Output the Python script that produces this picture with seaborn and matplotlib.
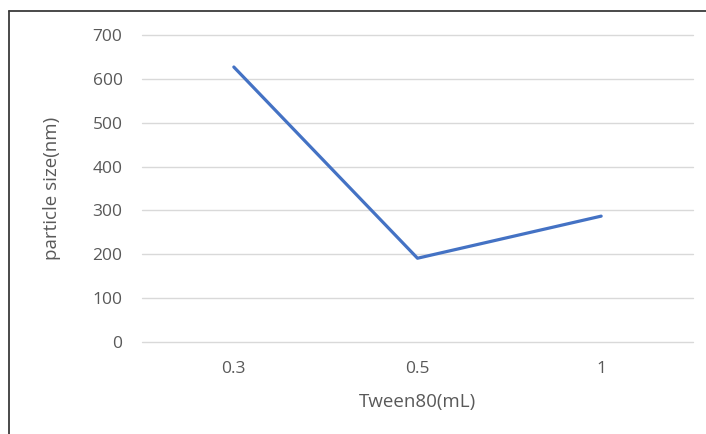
import matplotlib
matplotlib.use("Agg")
import matplotlib.pyplot as plt
from matplotlib.lines import Line2D
import seaborn as sns
import pandas as pd

categories = ["0.3", "0.5", "1"]
particle_size = [627, 191, 287]
y_ticks = [0, 100, 200, 300, 400, 500, 600, 700]

sns.set_theme(style="white")
plt.rcParams["font.family"] = ["Open Sans", "DejaVu Sans"]

df = pd.DataFrame({"Tween80(mL)": categories, "particle size(nm)": particle_size})

fig = plt.figure(figsize=(7.06, 4.34), dpi=100)
ax = fig.add_axes([142/706, 1-342/434, (693-142)/706, (342-35)/434])

sns.lineplot(data=df, x="Tween80(mL)", y="particle size(nm)", ax=ax,
             color="#4472C4", linewidth=2.3, sort=False)

ax.set_xlim(-0.5, 2.5)
ax.set_ylim(0, 700)
ax.set_yticks(y_ticks)
ax.yaxis.grid(True, color="#d9d9d9", linewidth=1.0)
for gl in ax.get_ygridlines():
    gl.set_clip_on(False)
ax.set_axisbelow(True)
for s in ax.spines.values():
    s.set_visible(False)
ax.tick_params(axis="both", length=0, labelsize=12.5, labelcolor="#595959")
ax.tick_params(axis="y", pad=14)
ax.tick_params(axis="x", pad=14)
ax.set_xlabel("Tween80(mL)", fontsize=13.5, color="#595959", labelpad=11)
ax.set_ylabel("particle size(nm)", fontsize=13.5, color="#595959", labelpad=23)

# outer chart border (left and top edges visible)
fig.add_artist(Line2D([9/706, 9/706], [0, 1-11/434], transform=fig.transFigure,
                      color="#3a3a3a", linewidth=1.3))
fig.add_artist(Line2D([9/706, 1], [1-11/434, 1-11/434], transform=fig.transFigure,
                      color="#3a3a3a", linewidth=1.3))

fig.savefig("out.png", dpi=100)
